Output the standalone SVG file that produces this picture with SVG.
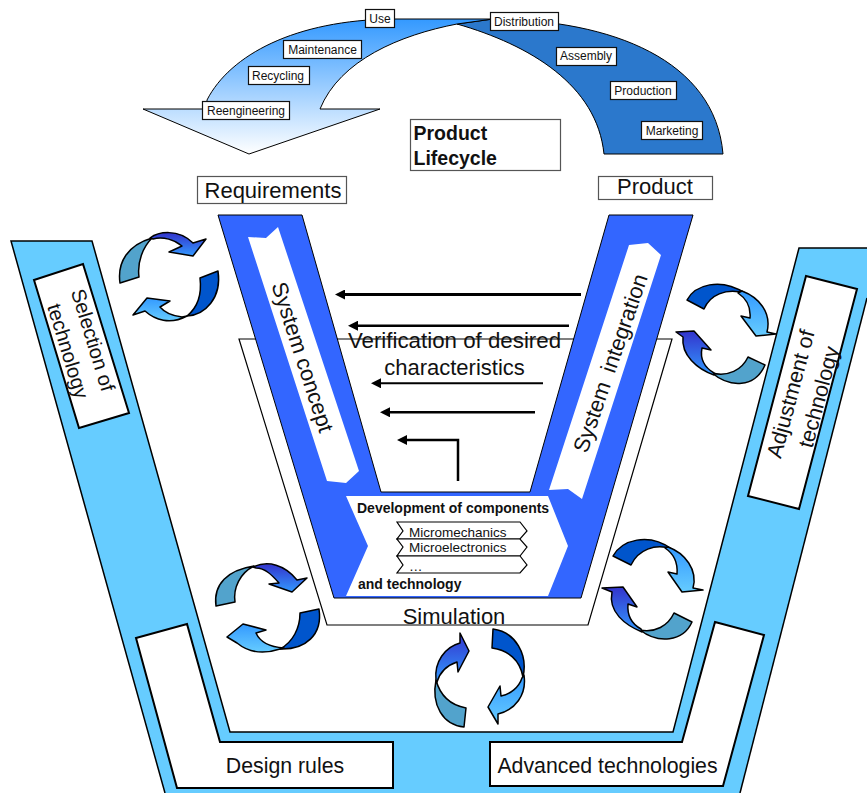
<svg xmlns="http://www.w3.org/2000/svg" width="867" height="793" viewBox="0 0 867 793">
<style>
text{font-family:"Liberation Sans",Arial,sans-serif;fill:#111;text-anchor:middle}
.s{font-size:12px}.m{font-size:22px}.d{font-size:21.3px}.b{font-size:14px;font-weight:bold;text-anchor:start}.c{font-size:13.5px;text-anchor:start}
.box{fill:#fff;stroke:#111;stroke-width:1.2}
.gb{fill:#fff;stroke:#555;stroke-width:1.2}
.w{fill:#fff;stroke:#000;stroke-width:1.2}
.wt{fill:#fff;stroke:#000;stroke-width:2}
.ar{fill:none;stroke:#000;marker-end:url(#ah)}
.ca{stroke:#000;stroke-width:1.5;stroke-linejoin:round}
.teal{fill:#52a3cc}.dark{fill:#0055cc}
.h1{fill:url(#g1)}.h2{fill:url(#g2)}
</style>
<defs>
<linearGradient id="gl" gradientUnits="userSpaceOnUse" x1="0" y1="19" x2="0" y2="154"><stop offset="0" stop-color="#3399ff"/><stop offset="1" stop-color="#fff"/></linearGradient>
<linearGradient id="g1" x1="0" y1="0" x2="0" y2="1"><stop offset="0" stop-color="#3333cc"/><stop offset="1" stop-color="#3399ff"/></linearGradient>
<linearGradient id="g2" x1="0" y1="0" x2="0" y2="1"><stop offset="0" stop-color="#3399ff"/><stop offset="1" stop-color="#66ccff"/></linearGradient>
<marker id="ah" viewBox="0 0 10 10" refX="5" refY="5" markerUnits="userSpaceOnUse" markerWidth="10" markerHeight="10" orient="auto"><path d="M0,0L10,5L0,10Z" fill="#000"/></marker>
</defs>

<g id="technology-frame">
<path d="M11,241H92L230,732H673L799,248H867V298L740,793H165Z" fill="#66ccff"/>
<path d="M165,793L11,241H92L230,732H673L799,248H867" fill="none" stroke="#000" stroke-width="1.5"/>
<path d="M867,298L740,793" fill="none" stroke="#000" stroke-width="1.5"/>
</g>
<g id="selection"><path class="wt" d="M34,280L83,264L129,413L79,428Z"/>
<text class="m" style="font-size:20.3px" transform="translate(93,340) rotate(73)" y="7">Selection of</text>
<text class="m" style="font-size:20.3px" transform="translate(68,351) rotate(73)" y="7">technology</text></g>
<g id="adjustment"><path class="wt" d="M806,276L857,289L799,509L748,496Z"/>
<text class="m" style="font-size:21.5px" transform="translate(791,394) rotate(-75)" y="7">Adjustment of</text>
<text class="m" style="font-size:21.5px" transform="translate(819,397) rotate(-75)" y="7">technology</text></g>
<g id="design-rules"><path class="wt" d="M136,638L187,624L220,742H393V788H177Z"/><text class="d" x="285" y="773">Design rules</text></g>
<g id="advanced"><path class="wt" d="M715,622L764,635L723,786H490V742H682Z"/><text class="d" x="607.500" y="773">Advanced technologies</text></g>

<g id="simulation"><path class="w" d="M239,339H672L588,625H327Z"/><text class="m" x="454" y="624">Simulation</text></g>
<g id="v-model"><path d="M218,215H302L381,492H530L609,215H693L581,598H334Z" fill="#3366ff" stroke="#000" stroke-width="1"/></g>
<g id="system-concept"><path d="M248,237L266,238L278,227L359,471L346,483L327,481Z" fill="#fff"/>
<text class="m" transform="translate(303,357) rotate(72)" y="8">System concept</text></g>
<g id="system-integration"><path d="M629,245L648,243L661,255L582,499L568,489L549,490Z" fill="#fff"/>
<text class="m" word-spacing="5" transform="translate(610,363) rotate(-71)" y="8">System integration</text></g>
<g id="development"><path d="M346,496H548L568,546L548,596H346L368,546Z" fill="#fff"/>
<text class="b" x="357" y="513">Development of components</text>
<text class="b" x="358" y="589">and technology</text>
<path class="w" d="M397,522H520L527,531L520,539H397L403,531Z"/>
<path class="w" d="M397,539H520L527,547L520,556H397L403,547Z"/>
<path class="w" d="M397,556H520L527,565L520,573H397L403,565Z"/>
<text class="c" x="409" y="537">Micromechanics</text>
<text class="c" x="409" y="552">Microelectronics</text>
<text class="c" x="409" y="571">…</text></g>

<g id="verification"><text class="m" style="font-size:22.3px" x="454.500" y="348">Verification of desired</text><text class="m" x="454.500" y="375">characteristics</text></g>
<g id="connectors">
<path class="ar" stroke-width="3" d="M581,294.500H340"/>
<path class="ar" stroke-width="2.500" d="M569,325.700H353"/>
<path class="ar" stroke-width="2" d="M543,383.300H376"/>
<path class="ar" stroke-width="2.500" d="M535,412.300H385"/>
<path class="ar" stroke-width="2.500" d="M458,481V440H402"/>
</g>

<g id="lifecycle">
<path d="M457,24C530,45 597,85 604,154H723C715,60 612,20 493,19Z" fill="#2b78cc" stroke="#000" stroke-width="1"/>
<path d="M207,100C230,55 295,20 393,19H493L457,24C400,35 340,60 320,109H380L249,154L143,109H207Z" fill="url(#gl)" stroke="#000" stroke-width="1"/>
</g>
<g id="use"><rect class="box" x="365.500" y="9.500" width="29" height="18"/><text class="s" x="380" y="23">Use</text></g>
<g id="distribution"><rect class="box" x="490.500" y="12.500" width="68" height="18"/><text class="s" x="524" y="26">Distribution</text></g>
<g id="maintenance"><rect class="box" x="283.500" y="40.500" width="78" height="18"/><text class="s" x="322.500" y="54">Maintenance</text></g>
<g id="recycling"><rect class="box" x="248.500" y="66.500" width="61" height="18"/><text class="s" x="278" y="80">Recycling</text></g>
<g id="reengineering"><rect class="box" x="202.500" y="101.500" width="87" height="18"/><text class="s" x="246" y="115">Reengineering</text></g>
<g id="assembly"><rect class="box" x="556.500" y="47.500" width="60" height="18"/><text class="s" x="586" y="60">Assembly</text></g>
<g id="production"><rect class="box" x="610.500" y="81.500" width="66" height="18"/><text class="s" x="643" y="95">Production</text></g>
<g id="marketing"><rect class="box" x="641.500" y="121.500" width="61" height="18"/><text class="s" x="672" y="135">Marketing</text></g>
<g id="product-lifecycle"><rect class="gb" x="410.500" y="119.500" width="150" height="51"/>
<text style="font-size:19.500px;font-weight:bold;text-anchor:start" x="413.500" y="140">Product</text>
<text style="font-size:19.500px;font-weight:bold;text-anchor:start" x="413.500" y="165">Lifecycle</text></g>
<g id="requirements"><rect class="gb" x="197.500" y="176.500" width="149" height="27"/><text class="m" x="273" y="198">Requirements</text></g>
<g id="product"><rect class="gb" x="598.500" y="176.500" width="114" height="23"/><text class="m" x="655" y="194">Product</text></g>

<g id="cycle-top-left" class="ca">
<path class="teal" d="M120,283C117,262 128,245 152,238C143,247 137,262 139,277Z"/>
<path class="h1" d="M150,238C158,232 178,228 193,243L206,239L193,256L169,252L182,246C175,240 163,236 153,239Z"/>
<path class="dark" d="M218,271L200,278C202,295 197,308 187,316C205,315 222,298 218,271Z"/>
<path class="h2" d="M187,316C170,325 155,320 145,311L133,315L147,298L170,301L160,307C165,313 173,316 182,317Z"/>
</g>
<g id="cycle-top-right" class="ca">
<path class="dark" d="M687,300C695,285 720,277 745,293C725,288 710,295 704,309Z"/>
<path class="h2" d="M742,291C758,297 772,312 767,332L776,334L756,336L741,316L750,318C751,307 747,299 738,293Z"/>
<path class="teal" d="M765,365L748,357C742,370 728,377 712,373C730,388 755,388 765,365Z"/>
<path class="h1" d="M714,375C697,369 681,355 683,337L676,332L694,331L711,350L702,348C700,358 704,367 714,373Z"/>
</g>
<g id="cycle-bottom-left" class="ca">
<path class="teal" d="M216,606C213,584 228,570 254,566C240,573 233,588 235,602Z"/>
<path class="h1" d="M253,567C268,560 285,565 297,580L307,578L292,592L269,584L279,583C272,575 265,568 256,568Z"/>
<path class="dark" d="M319,609L300,613C300,628 293,642 280,649C305,650 323,635 319,609Z"/>
<path class="h2" d="M280,649C262,655 248,652 237,643L227,637L243,624L266,630L256,633C260,642 270,647 284,648Z"/>
</g>
<g id="cycle-bottom-right" class="ca">
<path class="dark" d="M613,556C622,540 648,532 672,549C655,543 638,550 631,565Z"/>
<path class="h2" d="M668,547C685,553 698,570 693,588L703,590L682,592L668,572L677,574C678,562 674,554 665,548Z"/>
<path class="teal" d="M692,622L674,613C668,626 655,633 640,630C658,644 683,642 692,622Z"/>
<path class="h1" d="M642,632C625,625 608,612 612,592L602,588L623,587L637,607L628,604C627,615 632,624 641,629Z"/>
</g>
<g id="cycle-bottom" class="ca">
<path class="teal" d="M466,708L464,727C443,725 431,705 436,680C440,695 450,705 466,708Z"/>
<path class="h1" d="M436,680C434,662 445,647 460,643L460,633L469,651L458,672L457,662C448,665 440,672 437,682Z"/>
<path class="dark" d="M493,629L492,648C508,650 520,660 523,677C528,655 516,632 493,629Z"/>
<path class="h2" d="M524,675C527,695 515,710 498,714L498,724L488,707L500,686L501,696C511,694 519,687 522,678Z"/>
</g>
</svg>
